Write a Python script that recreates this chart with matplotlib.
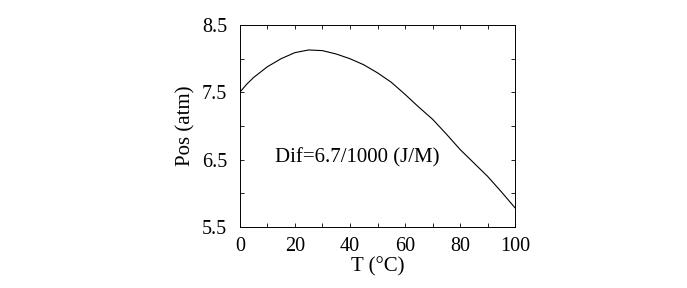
import matplotlib
matplotlib.use("Agg")
import matplotlib.pyplot as plt
from matplotlib.ticker import MultipleLocator

# values
temp = [0, 2.5, 5, 10, 15, 20, 25, 30, 35, 40, 45, 50, 55, 60, 65, 70, 75, 80, 85, 90, 95, 100]
pos = [7.50, 7.62, 7.72, 7.88, 8.00, 8.09, 8.13, 8.12, 8.07, 8.00, 7.91, 7.79, 7.65, 7.47,
       7.28, 7.10, 6.88, 6.65, 6.45, 6.25, 6.02, 5.78]
yticks = [5.5, 6.5, 7.5, 8.5]
note = "Dif=6.7/1000 (J/M)"

plt.rcParams['font.family'] = ['Liberation Serif', 'DejaVu Serif']

fig = plt.figure(figsize=(6.87, 2.88), dpi=100)
ax = fig.add_axes([0.349, 0.212, 0.401, 0.701])

ax.plot(temp, pos, color="black", lw=0.8)

ax.set_xlim(0, 100)
ax.set_ylim(5.5, 8.5)
ax.xaxis.set_major_locator(MultipleLocator(20))
ax.xaxis.set_minor_locator(MultipleLocator(10))
ax.set_yticks(yticks)
ax.yaxis.set_minor_locator(MultipleLocator(0.5))
ax.tick_params(which="both", direction="in", top=True, right=True, labelsize=14.5, width=0.6)
ax.tick_params(which="major", length=3)
ax.tick_params(which="minor", length=3)
ax.tick_params(axis="x", pad=7)
ax.tick_params(axis="y", pad=9)
for s in ax.spines.values():
    s.set_linewidth(0.7)

ax.set_xlabel("T (\u00b0C)", fontsize=15, labelpad=1)
ax.set_ylabel("Pos (atm)", fontsize=15, labelpad=5)
ax.text(0.127, 0.345, note, transform=ax.transAxes, fontsize=15, va="center")

fig.savefig("out.png", dpi=100)
